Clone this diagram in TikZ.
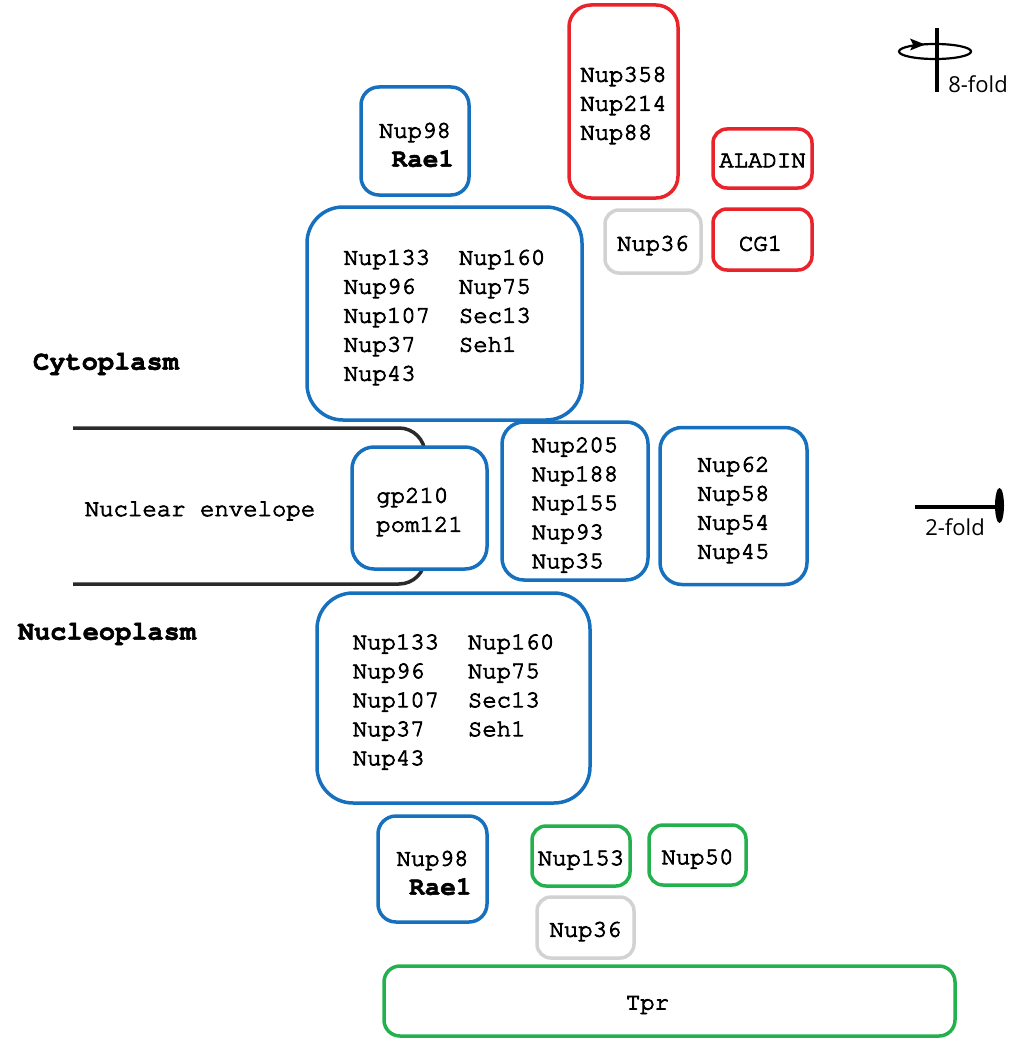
\documentclass[tikz,border=0pt]{standalone}
\usepackage{fontspec}
\setmonofont{TeX Gyre Cursor}[FakeBold=3.5, BoldFont={TeX Gyre Cursor Bold}, BoldFeatures={FakeBold=2}]
\newfontfamily\foldfont{Open Sans}
\usetikzlibrary{arrows.meta}
\definecolor{nupblue}{HTML}{1670BE}
\definecolor{nupred}{HTML}{E8232A}
\definecolor{nupgreen}{HTML}{22B14C}
\definecolor{nupgray}{HTML}{D2D2D2}
\definecolor{envblack}{HTML}{2A2A2A}
\begin{document}
\begin{tikzpicture}[x=1pt,y=-1pt,
    nup/.style={font=\ttfamily\fontsize{24}{29}\selectfont, align=left, inner sep=0pt,
        line width=3.5pt, rounded corners=18pt, fill=white},
    bluebox/.style={nup, draw=nupblue},
    redbox/.style={nup, draw=nupred},
    greenbox/.style={nup, draw=nupgreen},
    graybox/.style={nup, draw=nupgray},
    bigbox/.style={rounded corners=36pt},
    nuptext/.style={nup, fill=none, draw=none, yshift=-4pt},
    region/.style={font=\ttfamily\bfseries\fontsize{27}{30}\selectfont},
    foldlabel/.style={font=\foldfont\fontsize{22}{24}\selectfont, inner sep=0pt}]
    \useasboundingbox (0,0) rectangle (1016,1038);

    %Nuclear envelope
        \draw[envblack, line width=3.5pt, rounded corners=26pt] (73,428) -- (425,428) -- (425,584) -- (73,584);
        \node[font=\ttfamily\fontsize{24}{29}\selectfont] (envelope) at (200,511) {Nuclear envelope};
        \node[region] (cyto) at (106,364) {Cytoplasm};
        \node[region] (nucleo) at (107,634) {Nucleoplasm};

    %Cytoplasmic side
        \node[redbox, rounded corners=22pt, minimum width=109pt, minimum height=193pt] (nup358) at (623.5,101.5) {};
        \node[nuptext] at (nup358) {Nup358\\Nup214\\Nup88};
        \node[bluebox, minimum width=108pt, minimum height=108pt] (rae1top) at (415,141) {};
        \node[nuptext, align=center] at (rae1top) {Nup98\\{\bfseries\fontsize{26}{29}\selectfont\ Rae1}};
        \node[redbox, rounded corners=14pt, minimum width=99pt, minimum height=59pt] (aladin) at (762.5,158.5) {};
        \node[nuptext, yshift=2pt] at (aladin) {ALADIN};
        \node[graybox, rounded corners=14pt, minimum width=96pt, minimum height=63pt] (nup36top) at (653,241.5) {};
        \node[nuptext] at (nup36top) {Nup36};
        \node[redbox, rounded corners=14pt, minimum width=99pt, minimum height=61pt] (cg1) at (762.5,239.5) {};
        \node[nuptext, xshift=-2pt] at (cg1) {CG1};
        \node[bluebox, bigbox, minimum width=275pt, minimum height=213pt] (ytop) at (444.5,313.5) {};
        \node[nuptext] at (ytop) {Nup133\ \ Nup160\\Nup96\ \ \ Nup75\\Nup107\ \ Sec13\\Nup37\ \ \ Seh1\\Nup43};

    %Membrane and inner ring
        \node[bluebox, rounded corners=22pt, minimum width=135pt, minimum height=122pt] (gp210) at (419.5,508) {};
        \node[nuptext] at (gp210) {gp210\\pom121};
        \node[bluebox, rounded corners=22pt, minimum width=146pt, minimum height=158pt] (nup205) at (575,501) {};
        \node[nuptext] at (nup205) {Nup205\\Nup188\\Nup155\\Nup93\\Nup35};
        \node[bluebox, rounded corners=22pt, minimum width=147pt, minimum height=157pt] (nup62) at (733.5,506) {};
        \node[nuptext] at (nup62) {Nup62\\Nup58\\Nup54\\Nup45};

    %Nuclear side
        \node[bluebox, bigbox, minimum width=273pt, minimum height=210pt] (ybot) at (453.5,698) {};
        \node[nuptext] at (ybot) {Nup133\ \ Nup160\\Nup96\ \ \ Nup75\\Nup107\ \ Sec13\\Nup37\ \ \ Seh1\\Nup43};
        \node[bluebox, minimum width=109pt, minimum height=106pt] (rae1bot) at (432.5,869) {};
        \node[nuptext, align=center] at (rae1bot) {Nup98\\{\bfseries\fontsize{26}{29}\selectfont\ Rae1}};
        \node[greenbox, rounded corners=14pt, minimum width=98pt, minimum height=60pt] (nup153) at (581,856) {};
        \node[nuptext] at (nup153) {Nup153};
        \node[greenbox, rounded corners=14pt, minimum width=97pt, minimum height=60pt] (nup50) at (697.5,855) {};
        \node[nuptext] at (nup50) {Nup50};
        \node[graybox, rounded corners=14pt, minimum width=97pt, minimum height=61pt] (nup36bot) at (585.5,927.5) {};
        \node[nuptext] at (nup36bot) {Nup36};
        \node[greenbox, rounded corners=16pt, minimum width=571pt, minimum height=70pt] (tpr) at (669.5,1001) {};
        \node[nuptext, xshift=-22pt] at (tpr) {Tpr};

    %Symmetry axes
        \draw[line width=2.2pt] (935,51.5) ellipse [x radius=36pt, y radius=7.5pt];
        \fill (925,44.5) -- (910,38.5) -- (913,44.5) -- (910,50.5) -- cycle;
        \draw[line width=3.5pt] (937,28) -- (937,92);
        \node[foldlabel] (eightfold) at (978,84) {8-fold};
        \draw[line width=4pt] (915,506.5) -- (996,506.5);
        \fill (999.5,505.5) ellipse [x radius=4.5pt, y radius=17.5pt];
        \node[foldlabel] (twofold) at (955,527.5) {2-fold};
\end{tikzpicture}
\end{document}
